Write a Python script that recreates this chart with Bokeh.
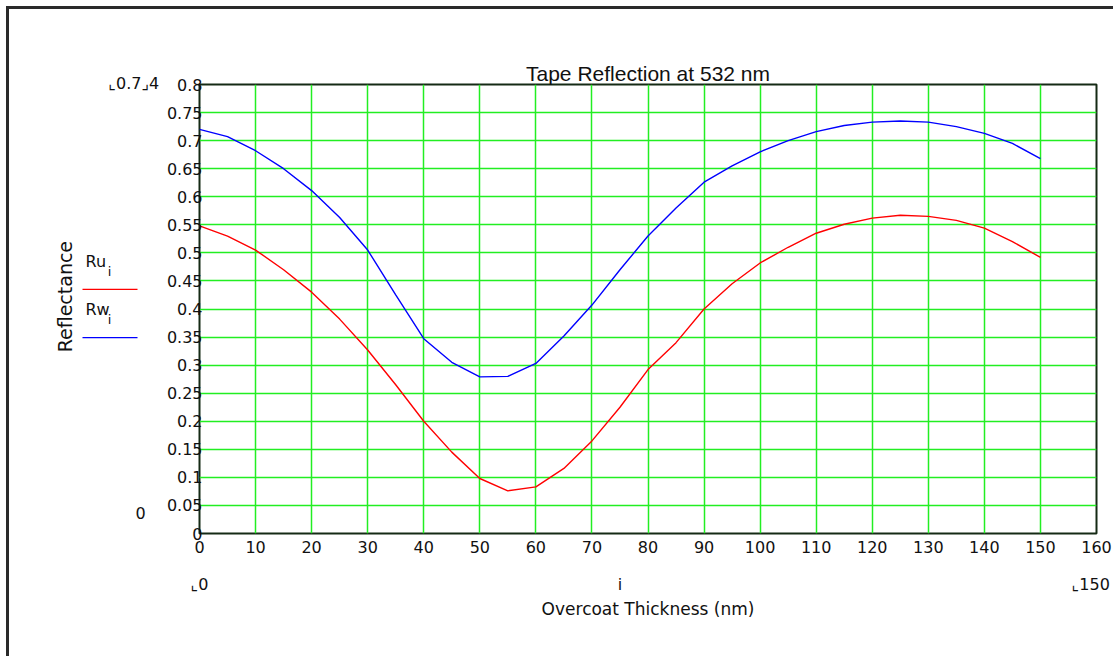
import math
from bokeh.plotting import figure
from bokeh.models import Range1d, FixedTicker, LinearAxis
from bokeh.core.properties import value
from bokeh.layouts import row
from bokeh.embed import file_html
from bokeh.resources import INLINE

# Overcoat thickness (nm) and computed reflectance of the tape at 532 nm
thickness = [0, 5, 10, 15, 20, 25, 30, 35, 40, 45, 50, 55, 60, 65, 70, 75,
             80, 85, 90, 95, 100, 105, 110, 115, 120, 125, 130, 135, 140, 145, 150]
ru = [0.548, 0.530, 0.505, 0.470, 0.430, 0.382, 0.327, 0.265, 0.200, 0.145,
      0.098, 0.076, 0.083, 0.116, 0.165, 0.225, 0.292, 0.340, 0.400, 0.445,
      0.482, 0.510, 0.535, 0.551, 0.562, 0.567, 0.565, 0.558, 0.544, 0.520, 0.492]
rw = [0.720, 0.707, 0.682, 0.650, 0.611, 0.563, 0.505, 0.425, 0.347, 0.305,
      0.279, 0.280, 0.303, 0.352, 0.407, 0.470, 0.530, 0.580, 0.626, 0.655,
      0.680, 0.700, 0.716, 0.727, 0.733, 0.735, 0.733, 0.725, 0.713, 0.695, 0.668]

x_ticks = [0, 10, 20, 30, 40, 50, 60, 70, 80, 90, 100, 110, 120, 130, 140, 150, 160]
y_ticks = [0, 0.05, 0.1, 0.15, 0.2, 0.25, 0.3, 0.35, 0.4, 0.45, 0.5, 0.55,
           0.6, 0.65, 0.7, 0.75, 0.8]
y_tick_labels = ["0", "0.05", "0.1", "0.15", "0.2", "0.25", "0.3", "0.35", "0.4",
                 "0.45", "0.5", "0.55", "0.6", "0.65", "0.7", "0.75", "0.8"]

# range placeholders shown under the thickness axis
limit_ticks = [0, 75, 159]
limit_labels = ["\u231e0", "i", "\u231e150"]

series_names = ["Ru", "Rw"]
series_colors = ["#ff0000", "#0000ff"]

FONT = "DejaVu Sans"
TEXT = "#111111"
GRID = "#22ee22"

# shared geometry of the two panels
FIG_H = 647
FRAME_TOP = 75
FRAME_BOTTOM = 123
Y_LO, Y_HI = 0.0, 0.8
LEFT_W = 150

p = figure(width=954, height=FIG_H, output_backend="svg", toolbar_location=None,
           x_range=Range1d(0, 160), y_range=Range1d(Y_LO, Y_HI),
           min_border_left=40, min_border_right=17, min_border_top=FRAME_TOP,
           min_border_bottom=FRAME_BOTTOM,
           title="Tape Reflection at 532 nm")
p.frame_align = False

p.background_fill_color = "white"
p.border_fill_color = "white"
p.outline_line_color = "#152a15"
p.outline_line_width = 2

p.title.align = "center"
p.title.text_font = "Liberation Sans"
p.title.text_font_size = "21px"
p.title.text_font_style = "normal"
p.title.text_color = TEXT
p.title.standoff = 0

p.xaxis.ticker = FixedTicker(ticks=x_ticks)
p.yaxis.ticker = FixedTicker(ticks=y_ticks)
p.yaxis.major_label_overrides = dict(zip(y_ticks, y_tick_labels))

limits_axis = LinearAxis(ticker=FixedTicker(ticks=limit_ticks),
                         major_label_overrides=dict(zip(limit_ticks, limit_labels)),
                         axis_label="Overcoat Thickness (nm)")
p.add_layout(limits_axis, "below")

for ax in (p.xaxis + p.yaxis):
    ax.axis_line_color = None
    ax.major_tick_line_color = None
    ax.minor_tick_line_color = None
    ax.major_tick_out = 0
    ax.major_tick_in = 0
    ax.major_label_text_font = FONT
    ax.major_label_text_font_size = "16px"
    ax.major_label_text_color = TEXT
    ax.axis_label_text_font = FONT
    ax.axis_label_text_font_size = "17px"
    ax.axis_label_text_font_style = "normal"
    ax.axis_label_text_color = TEXT

p.xaxis[0].major_label_standoff = 7
limits_axis.major_label_standoff = 19
limits_axis.axis_label_standoff = 2
p.yaxis.major_label_standoff = -3

p.xgrid.grid_line_color = GRID
p.ygrid.grid_line_color = GRID
p.xgrid.grid_line_width = 1.5
p.ygrid.grid_line_width = 1.5

p.line(thickness, ru, line_color=series_colors[0], line_width=1.4)
p.line(thickness, rw, line_color=series_colors[1], line_width=1.4)

# left panel: value-axis title, series key and range placeholders,
# on the same vertical scale as the plot frame
px_per_unit = (FIG_H - FRAME_TOP - FRAME_BOTTOM) / (Y_HI - Y_LO)
side = figure(width=LEFT_W, height=FIG_H, output_backend="svg", toolbar_location=None,
              x_range=Range1d(0, LEFT_W),
              y_range=Range1d(Y_LO - FRAME_BOTTOM / px_per_unit,
                              Y_HI + FRAME_TOP / px_per_unit),
              x_axis_type=None, y_axis_type=None,
              min_border_left=0, min_border_right=0, min_border_top=0,
              min_border_bottom=0)
side.frame_align = False
side.outline_line_color = None
side.xgrid.visible = False
side.ygrid.visible = False
side.background_fill_color = "white"
side.border_fill_color = "white"


def side_text(x, y, text, size="16px", align="left", angle=0.0):
    side.text(x=[x], y=[y], text=[text], angle=angle, text_font=value(FONT),
              text_font_size=size, text_color=TEXT, text_align=align,
              text_baseline="middle")


side_text(55, 0.422, "Reflectance", size="19px", align="center", angle=math.pi / 2)

key_y = [0.485, 0.399]
for name, color, ky in zip(series_names, series_colors, key_y):
    side_text(76, ky, name, size="16px")
    side_text(100, ky - 0.018, "i", size="13px", align="center")
    side.segment(x0=[73], y0=[ky - 0.05], x1=[128], y1=[ky - 0.05],
                 line_color=color, line_width=1.3)

side_text(99, 0.802, "\u231e0.7\u231f4")
side_text(131, 0.036, "0", align="center")

root = row(side, p,
           styles={"border-top": "3px solid #2a2a2a",
                   "border-left": "3px solid #2a2a2a",
                   "margin-left": "6px", "margin-top": "6px"})

open("out.html", "w").write(file_html(root, INLINE))
